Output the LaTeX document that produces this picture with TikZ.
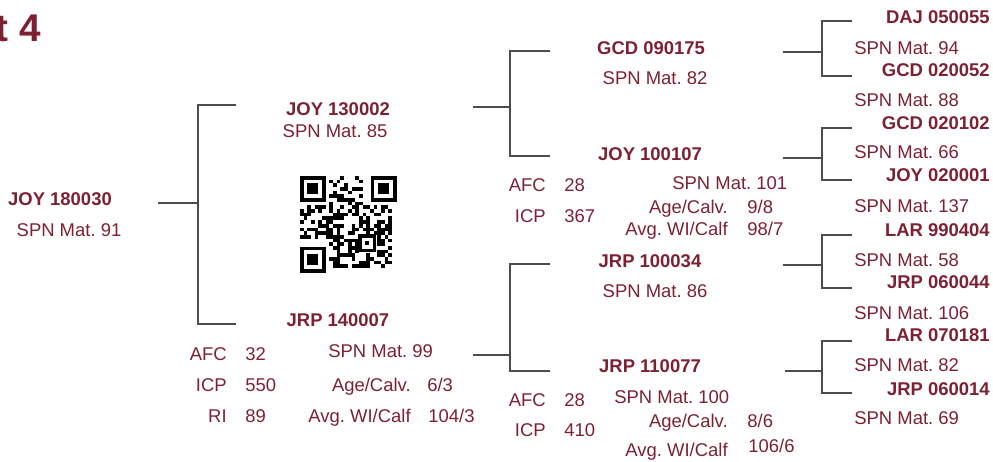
\documentclass[tikz,border=0pt]{standalone}
\usepackage{fontspec}
\setmainfont{Liberation Sans}
\definecolor{ped}{RGB}{125,33,50}
\frenchspacing

\begin{document}
\begin{tikzpicture}[x=0.02cm, y=-0.02cm,
    txt/.style={inner sep=0pt, text height=7.5pt, text depth=0pt, text=ped,
      font=\fontsize{10.5}{12}\selectfont},
    tag/.style={txt, font=\fontsize{10.5}{12}\selectfont\bfseries},
    lft/.style={txt, anchor=east},
    rgt/.style={txt, anchor=west},
    link/.style={draw=black!70, line width=0.6pt}]
    \useasboundingbox (0,0) rectangle (993,461);

    % タイトル
    \node[txt, anchor=east, text height=15.8pt, font=\fontsize{22}{24}\selectfont\bfseries] (title) at (41,28) {t 4};

    % 本人
    \node[tag] (n0) at (60,199) {JOY 180030};
    \node[txt] (n0s) at (69,230) {SPN Mat. 91};

    % 父・母
    \node[tag] (s) at (338,109) {JOY 130002};
    \node[txt] (ss) at (335,131) {SPN Mat. 85};
    \node[tag] (d) at (338,320) {JRP 140007};
    \node[rgt] (ds) at (328,351) {SPN Mat. 99};
    \node[lft] (dafc) at (227,354) {AFC};
    \node[rgt] (dafcv) at (245,354) {32};
    \node[lft] (dicp) at (227,385) {ICP};
    \node[rgt] (dicpv) at (245,385) {550};
    \node[lft] (dri) at (227,416) {RI};
    \node[rgt] (driv) at (245,416) {89};
    \node[lft] (dage) at (411,385) {Age/Calv.};
    \node[rgt] (dagev) at (427,385) {6/3};
    \node[lft] (dwt) at (411,416) {Avg. WI/Calf};
    \node[rgt] (dwtv) at (428,416) {104/3};

    % 祖父母
    \node[tag] (ss1) at (651,48) {GCD 090175};
    \node[txt] (ss1s) at (655,78) {SPN Mat. 82};
    \node[tag] (sd1) at (650,154) {JOY 100107};
    \node[lft] (sdafc) at (546,185) {AFC};
    \node[rgt] (sdafcv) at (564,185) {28};
    \node[lft] (sdicp) at (546,216) {ICP};
    \node[rgt] (sdicpv) at (564,216) {367};
    \node[rgt] (sds) at (672,183) {SPN Mat. 101};
    \node[lft] (sdage) at (728,207) {Age/Calv.};
    \node[rgt] (sdagev) at (747,207) {9/8};
    \node[lft] (sdwt) at (728,229) {Avg. WI/Calf};
    \node[rgt] (sdwtv) at (747,229) {98/7};

    \node[tag] (ds1) at (650,261) {JRP 100034};
    \node[txt] (ds1s) at (655,291) {SPN Mat. 86};
    \node[tag] (dd1) at (650,366) {JRP 110077};
    \node[lft] (ddafc) at (546,400) {AFC};
    \node[rgt] (ddafcv) at (564,400) {28};
    \node[lft] (ddicp) at (546,430) {ICP};
    \node[rgt] (ddicpv) at (564,430) {410};
    \node[rgt] (dds) at (614,397) {SPN Mat. 100};
    \node[lft] (ddage) at (728,421) {Age/Calv.};
    \node[rgt] (ddagev) at (747,421) {8/6};
    \node[lft] (ddwt) at (728,450) {Avg. WI/Calf};
    \node[rgt] (ddwtv) at (748,446) {106/6};

    % 曾祖父母
    \node[tag, anchor=east] (g1) at (990,17) {DAJ 050055};
    \node[rgt] (g1s) at (854,48) {SPN Mat. 94};
    \node[tag, anchor=east] (g2) at (990,70) {GCD 020052};
    \node[rgt] (g2s) at (854,100) {SPN Mat. 88};
    \node[tag, anchor=east] (g3) at (990,123) {GCD 020102};
    \node[rgt] (g3s) at (854,152) {SPN Mat. 66};
    \node[tag, anchor=east] (g4) at (990,175) {JOY 020001};
    \node[rgt] (g4s) at (854,206) {SPN Mat. 137};
    \node[tag, anchor=east] (g5) at (990,230) {LAR 990404};
    \node[rgt] (g5s) at (854,260) {SPN Mat. 58};
    \node[tag, anchor=east] (g6) at (990,282) {JRP 060044};
    \node[rgt] (g6s) at (854,313) {SPN Mat. 106};
    \node[tag, anchor=east] (g7) at (990,335) {LAR 070181};
    \node[rgt] (g7s) at (854,365) {SPN Mat. 82};
    \node[tag, anchor=east] (g8) at (990,389) {JRP 060014};
    \node[rgt] (g8s) at (854,418) {SPN Mat. 69};

    % 線を引く
    \coordinate (a-in) at (158,203);
    \coordinate (a-j) at (198,203);
    \coordinate (a-up) at (236,105);
    \coordinate (a-dn) at (236,324);
    \draw[link] (a-in) -- (a-j) |- (a-up);
    \draw[link] (a-j) |- (a-dn);

    \coordinate (b-in) at (473,107);
    \coordinate (b-j) at (510,107);
    \coordinate (b-up) at (550,51);
    \coordinate (b-dn) at (550,156);
    \draw[link] (b-in) -- (b-j) |- (b-up);
    \draw[link] (b-j) |- (b-dn);

    \coordinate (c-in) at (473,355);
    \coordinate (c-j) at (510,355);
    \coordinate (c-up) at (550,264);
    \coordinate (c-dn) at (550,371);
    \draw[link] (c-in) -- (c-j) |- (c-up);
    \draw[link] (c-j) |- (c-dn);

    \coordinate (d-in) at (783,52);
    \coordinate (d-j) at (822,52);
    \coordinate (d-up) at (852,21);
    \coordinate (d-dn) at (852,76);
    \draw[link] (d-in) -- (d-j) |- (d-up);
    \draw[link] (d-j) |- (d-dn);

    \coordinate (e-in) at (783,158);
    \coordinate (e-j) at (822,158);
    \coordinate (e-up) at (852,128);
    \coordinate (e-dn) at (852,180);
    \draw[link] (e-in) -- (e-j) |- (e-up);
    \draw[link] (e-j) |- (e-dn);

    \coordinate (f-in) at (783,265);
    \coordinate (f-j) at (822,265);
    \coordinate (f-up) at (852,235);
    \coordinate (f-dn) at (852,288);
    \draw[link] (f-in) -- (f-j) |- (f-up);
    \draw[link] (f-j) |- (f-dn);

    \coordinate (g-in) at (785,371);
    \coordinate (g-j) at (822,371);
    \coordinate (g-up) at (852,341);
    \coordinate (g-dn) at (852,393);
    \draw[link] (g-in) -- (g-j) |- (g-up);
    \draw[link] (g-j) |- (g-dn);

    % QRコード
    \def\m{3.68}
    \foreach \qx/\qy in {300/176, 300/246.8, 370.8/176, 358/234} {
      \pgfmathsetmacro\ww{(\qx==358) ? 5 : 7}
      \fill (\qx,\qy) rectangle ++(\ww*\m,\ww*\m);
      \fill[white] (\qx+\m,\qy+\m) rectangle ++(\ww*\m-2*\m,\ww*\m-2*\m);
      \fill (\qx+2*\m,\qy+2*\m) rectangle ++(\ww*\m-4*\m,\ww*\m-4*\m);
    }
    \foreach \i in {0,...,24} {
      \foreach \j in {0,...,24} {
        \pgfmathtruncatemacro\skp{(\i<8)*(\j<8)+(\i>16)*(\j<8)+(\i<8)*(\j>16)+(\i>15)*(\i<21)*(\j>15)*(\j<21)}
        \pgfmathtruncatemacro\r{mod(mod((\i+1)*(\j+3),53)*37+\i*\i*11+\j*7,101)}
        \ifnum\skp=0 \ifnum\r<52
          \fill (300+\i*\m,176+\j*\m) rectangle ++(\m,\m);
        \fi\fi
      }
    }
\end{tikzpicture}
\end{document}
